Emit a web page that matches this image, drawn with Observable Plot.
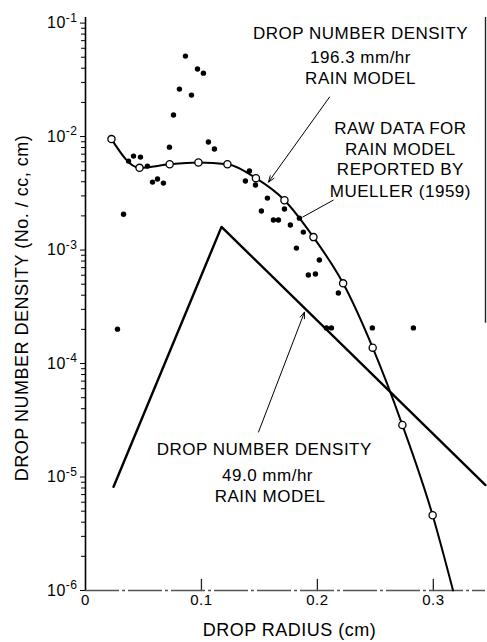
<!DOCTYPE html>
<html><head><meta charset="utf-8">
<script src="https://cdn.jsdelivr.net/npm/d3@7"></script>
<script src="https://cdn.jsdelivr.net/npm/@observablehq/plot@0.6"></script>
<style>
html,body{margin:0;padding:0;background:#fff;overflow:hidden}
#chart svg{display:block}
#chart svg text{letter-spacing:0.5px}
</style></head><body><div id="chart"></div>
<script>
// 196.3 mm/hr rain model (open circles, smooth curve)
const model196Radius = [0.0224, 0.0466, 0.0726, 0.0974, 0.1224, 0.147, 0.1716, 0.1966, 0.2222, 0.2477, 0.2733, 0.2994];
const model196Density = [9.5e-3, 5.3e-3, 5.7e-3, 5.9e-3, 5.7e-3, 4.3e-3, 2.75e-3, 1.30e-3, 5.09e-4, 1.38e-4, 2.87e-5, 4.6e-6];
const model196EndRadius = [0.317];
const model196EndDensity = [1e-6];

// 49.0 mm/hr rain model (straight segments)
const model49Radius = [0.0242, 0.1173, 0.345];
const model49Density = [8.2e-6, 1.6e-3, 8.5e-6];

// Raw data reported by Mueller (1959)
const rawRadius = [0.0862, 0.0966, 0.1017, 0.0810, 0.0914, 0.0759, 0.0724, 0.1060, 0.1112, 0.0414,
  0.0474, 0.0371, 0.0534, 0.0578, 0.0621, 0.0672, 0.0328, 0.0276, 0.1414, 0.1379,
  0.1466, 0.1569, 0.1517, 0.1716, 0.1621, 0.1664, 0.1767, 0.1845, 0.1879, 0.1819,
  0.2017, 0.1922, 0.1983, 0.2181, 0.2078, 0.2121, 0.2474, 0.2828];
const rawDensity = [0.0512, 0.0394, 0.0362, 0.0262, 0.0232, 0.0155, 0.00807, 0.00895, 0.00776, 0.00673,
  0.00659, 0.00608, 0.00549, 0.00397, 0.00423, 0.00389, 0.00207, 0.000201, 0.00497, 0.00406,
  0.00374, 0.00287, 0.00221, 0.00230, 0.00184, 0.00184, 0.00166, 0.00191, 0.00144, 0.00104,
  0.000817, 0.000603, 0.000615, 0.000418, 0.000206, 0.000206, 0.000206, 0.000206];

// Axis ticks
const xTickValues = [0, 0.1, 0.2, 0.3];
const xTickLabels = ["0", "0.1", "0.2", "0.3"];
const yTickValues = [1e-6, 1e-5, 1e-4, 1e-3, 1e-2, 1e-1];
const yTickExponents = ["-6", "-5", "-4", "-3", "-2", "-1"];
const yMinorTicks = [];
for (let e = -6; e <= -2; e++) for (let k = 2; k <= 9; k++) yMinorTicks.push(k * Math.pow(10, e));

// Annotation texts
const label196Lines = ["DROP NUMBER DENSITY", "196.3 mm/hr", "RAIN MODEL"];
const label196X = [0.2372, 0.2372, 0.2372];
const label196Y = [0.0816, 0.0501, 0.0327];
const labelRawLines = ["RAW DATA FOR", "RAIN MODEL", "REPORTED BY", "MUELLER (1959)"];
const labelRawX = [0.2716, 0.2716, 0.2716, 0.2716];
const labelRawY = [0.01186, 0.00774, 0.00516, 0.0033];
const label49Lines = ["DROP NUMBER DENSITY", "49.0 mm/hr", "RAIN MODEL"];
const label49X = [0.1542, 0.157, 0.1592];
const label49Y = [1.73e-5, 1.04e-5, 6.67e-6];

const xTitle = "DROP RADIUS (cm)";
const yTitle = "DROP NUMBER DENSITY (No. / cc, cm)";

const model196 = model196Radius.map((r, i) => ({r, n: model196Density[i]}));
const model196Curve = model196.concat(model196EndRadius.map((r, i) => ({r, n: model196EndDensity[i]})));
const model49 = model49Radius.map((r, i) => ({r, n: model49Density[i]}));
const raw = rawRadius.map((r, i) => ({r, n: rawDensity[i]}));

const tickUp = {draw(context, l) { context.moveTo(0, 0); context.lineTo(0, -l); }};

const chart = Plot.plot({
  width: 487, height: 642,
  marginLeft: 85, marginRight: 2, marginTop: 17, marginBottom: 52,
  style: {fontFamily: "'Liberation Sans', Arial, sans-serif", color: "#000", background: "#fff"},
  x: {domain: [0, 0.345]},
  y: {type: "log", domain: [1e-6, 0.112]},
  marks: [
    Plot.axisY({ticks: yMinorTicks, tickSize: 4, tickFormat: () => "", label: null, strokeWidth: 1}),
    Plot.axisY({ticks: yTickValues, tickSize: 5, tickPadding: 3, fontSize: 16, label: null,
      tickFormat: (d, i) => "10^" + yTickExponents[yTickValues.indexOf(d)]}),
    Plot.axisX({ticks: xTickValues, tickSize: 0, tickPadding: 4, fontSize: 15, label: null,
      tickFormat: d => xTickLabels[xTickValues.indexOf(d)]}),
    Plot.vector(xTickValues.slice(1), {x: d => d, y: 1e-6, length: 11, rotate: 0, anchor: "start", shape: tickUp, stroke: "#222", strokeWidth: 1.3}),
    Plot.ruleY([1e-6], {x1: 0, x2: 0.345, stroke: "#555", strokeWidth: 1.3, strokeDasharray: "34,3,3,3"}),
    Plot.ruleX([0], {y1: 1e-6, y2: 0.112, stroke: "#000", strokeWidth: 1.6}),
    Plot.ruleX([0.345], {y1: 2.27e-4, y2: 0.112, stroke: "#222", strokeWidth: 1.4}),
    Plot.text([yTitle], {frameAnchor: "left", dx: -63, dy: 4, rotate: -90, fontSize: 18, textAnchor: "middle", lineAnchor: "middle"}),
    Plot.text([xTitle], {frameAnchor: "bottom", dx: 4, dy: 40, fontSize: 18, textAnchor: "middle", lineAnchor: "middle"}),
    Plot.line(model49, {x: "r", y: "n", stroke: "#000", strokeWidth: 2.4}),
    Plot.line(model196Curve, {x: "r", y: "n", curve: "monotone-x", stroke: "#000", strokeWidth: 2}),
    Plot.dot(raw, {x: "r", y: "n", r: 2.7, fill: "#000"}),
    Plot.dot(model196, {x: "r", y: "n", r: 3.6, fill: "#fff", stroke: "#000", strokeWidth: 1.3}),
    Plot.arrow([0], {x1: 0.2105, y1: 0.0223, x2: 0.1578, y2: 0.00397, stroke: "#000", strokeWidth: 1, headLength: 10, headAngle: 40}),
    Plot.link([0], {x1: 0.2139, y1: 0.00276, x2: 0.1872, y2: 0.00195, stroke: "#000", strokeWidth: 1}),
    Plot.arrow([0], {x1: 0.1492, y1: 2.49e-5, x2: 0.1889, y2: 2.84e-4, stroke: "#000", strokeWidth: 1, headLength: 10, headAngle: 40}),
    Plot.text(label196Lines, {x: label196X, y: label196Y, fontSize: 17, lineAnchor: "middle"}),
    Plot.text(labelRawLines, {x: labelRawX, y: labelRawY, fontSize: 17, lineAnchor: "middle"}),
    Plot.text(label49Lines, {x: label49X, y: label49Y, fontSize: 17, lineAnchor: "middle"})
  ]
});

d3.select(chart).selectAll('g[aria-label="y-axis tick label"] text').each(function() {
  const t = d3.select(this);
  const m = t.text().match(/^10\^(-?\d+)$/);
  if (!m) return;
  t.text("10");
  t.append("tspan").attr("dy", "-0.55em").attr("font-size", "12px").text(m[1]);
});

document.getElementById("chart").appendChild(chart);
</script>
</body></html>
